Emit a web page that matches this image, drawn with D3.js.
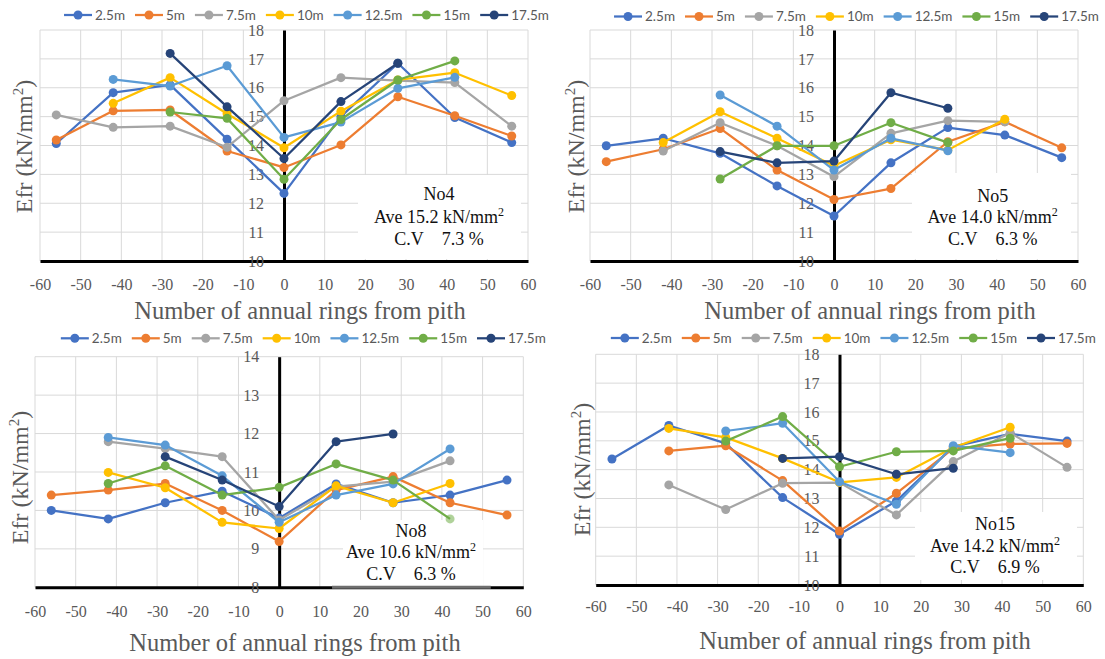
<!DOCTYPE html>
<html>
<head>
<meta charset="utf-8">
<script src="https://cdn.jsdelivr.net/npm/d3@7"></script>
<style>
  html, body { margin: 0; padding: 0; background: #fff; }
  svg { display: block; }
</style>
</head>
<body>
<svg id="chart" width="1105" height="659"></svg>
<script>
// Ring positions from the pith (x) and sampling heights (series)
const rings = [-56, -42, -28, -14, 0, 14, 28, 42, 56];
const heights = ["2.5m", "5m", "7.5m", "10m", "12.5m", "15m", "17.5m"];
const xTickValues = [-60, -50, -40, -30, -20, -10, 0, 10, 20, 30, 40, 50, 60];

// Efr (kN/mm2) per height, one value per ring position (null = not measured)
const no4_2_5  = [14.07, 15.83, 16.10, 14.22, 12.34, 15.00, 16.85, 14.97, 14.10];
const no4_5    = [14.19, 15.20, 15.23, 13.81, 13.24, 14.02, 15.69, 15.03, 14.33];
const no4_7_5  = [15.06, 14.63, 14.67, 13.94, 15.55, 16.35, 16.25, 16.18, 14.67];
const no4_10   = [null, 15.46, 16.35, 15.10, 13.92, 15.19, 16.27, 16.52, 15.73];
const no4_12_5 = [null, 16.29, 16.06, 16.76, 14.28, 14.81, 15.98, 16.36, null];
const no4_15   = [null, null, 15.16, 14.94, 12.83, 14.90, 16.27, 16.93, null];
const no4_17_5 = [null, null, 17.19, 15.34, 13.55, 15.52, 16.85, null, null];

const no5_2_5  = [13.99, 14.25, 13.73, 12.60, 11.56, 13.40, 14.62, 14.36, 13.58];
const no5_5    = [13.44, 13.87, 14.59, 13.15, 12.13, 12.51, 14.13, 14.82, 13.92];
const no5_7_5  = [null, 13.81, 14.79, 13.99, 12.92, 14.42, 14.86, 14.82, null];
const no5_10   = [null, 14.10, 15.17, 14.25, 13.30, 14.20, 13.84, 14.91, null];
const no5_12_5 = [null, null, 15.75, 14.67, 13.15, 14.25, 13.82, null, null];
const no5_15   = [null, null, 12.84, 13.99, 13.99, 14.79, 14.10, null, null];
const no5_17_5 = [null, null, 13.79, 13.40, 13.46, 15.83, 15.29, null, null];

const no8_2_5  = [10.00, 9.78, 10.20, 10.50, 9.80, 10.69, 10.20, 10.40, 10.79];
const no8_5    = [10.40, 10.53, 10.70, 10.00, 9.19, 10.53, 10.88, 10.20, 9.88];
const no8_7_5  = [null, 11.79, 11.61, 11.40, 9.75, 10.62, 10.75, 11.29, null];
const no8_10   = [null, 10.99, 10.59, 9.69, 9.53, 10.64, 10.20, 10.70, null];
const no8_12_5 = [null, 11.90, 11.70, 10.90, 9.69, 10.40, 10.69, 11.60, null];
const no8_15   = [null, 10.70, 11.16, 10.40, 10.60, 11.21, 10.79, 9.78, null];
const no8_17_5 = [null, null, 11.40, 10.79, 10.10, 11.79, 11.99, null, null];

const no15_2_5  = [14.37, 15.53, 14.91, 13.03, 11.76, 12.91, 14.80, 15.24, 14.99];
const no15_5    = [null, 14.65, 14.83, 13.62, 11.87, 13.18, 14.74, 14.89, 14.91];
const no15_7_5  = [null, 13.47, 12.62, 13.53, 13.55, 12.43, 14.28, 15.28, 14.08];
const no15_10   = [null, 15.43, 15.12, 14.39, 13.56, 13.73, 14.77, 15.47, null];
const no15_12_5 = [null, null, 15.34, 15.61, 13.58, 12.80, 14.83, 14.59, null];
const no15_15   = [null, null, 14.99, 15.84, 14.10, 14.62, 14.65, 15.09, null];
const no15_17_5 = [null, null, null, 14.39, 14.45, 13.84, 14.05, null, null];

// Summary statistics per log
const logNames = ["No4", "No5", "No8", "No15"];
const averages = ["15.2", "14.0", "10.6", "14.2"];
const cvs = ["7.3", "6.3", "6.3", "6.9"];

const colors = ["#4472C4", "#ED7D31", "#A5A5A5", "#FFC000", "#5B9BD5", "#70AD47", "#264478"];
const serif = "'Liberation Serif', 'Times New Roman', serif";
const sans = "Lato, 'Liberation Sans', Arial, sans-serif";
const textGray = "#595959";

// Layout of the four panels
const panels = [
  { values: [no4_2_5, no4_5, no4_7_5, no4_10, no4_12_5, no4_15, no4_17_5], yDomain: [10, 18],
    left: 40, right: 528, top: 30, bottom: 261, tickPad: 18,
    legendCx: 306.5, legendY: 15, yTitle: [24, 146.5], xTitle: [300, 319],
    box: [358, 521, 175, 259], note: [439, 200, 223, 245] },
  { values: [no5_2_5, no5_5, no5_7_5, no5_10, no5_12_5, no5_15, no5_17_5], yDomain: [10, 18],
    left: 590, right: 1078, top: 30, bottom: 261, tickPad: 18,
    legendCx: 856.5, legendY: 16.5, yTitle: [576, 146.5], xTitle: [870, 319],
    box: [912, 1071, 173, 259], note: [992.7, 201.5, 223, 245] },
  { values: [no8_2_5, no8_5, no8_7_5, no8_10, no8_12_5, no8_15, no8_17_5], yDomain: [8, 14],
    left: 35, right: 523.3, top: 356.7, bottom: 587.3, tickPad: 18,
    legendCx: 303.3, legendY: 338.3, yTitle: [20, 477.5], xTitle: [295, 651],
    box: [343, 483, 520, 586], note: [411, 536.7, 558.3, 580],
    axisPatch: [13, 52], faded: { series: 5, index: 7 } },
  { values: [no15_2_5, no15_5, no15_7_5, no15_10, no15_12_5, no15_15, no15_17_5], yDomain: [10, 18],
    left: 595.7, right: 1083.3, top: 354.3, bottom: 585, tickPad: 16,
    legendCx: 853.3, legendY: 338, yTitle: [582, 469.5], xTitle: [865, 649],
    box: [915, 1077, 512, 580], note: [995, 530, 551.7, 573.3] }
];

const svg = d3.select("#chart");
svg.append("rect").attr("width", 1105).attr("height", 659).attr("fill", "#fff");

panels.forEach((p, pi) => {
  const g = svg.append("g");
  const x = d3.scaleLinear().domain([-60, 60]).range([p.left, p.right]);
  const y = d3.scaleLinear().domain(p.yDomain).range([p.bottom, p.top]);
  const yTicks = d3.range(p.yDomain[0], p.yDomain[1] + 1);

  // gridlines
  g.append("g").selectAll("line").data(xTickValues).join("line")
    .attr("x1", d => x(d)).attr("x2", d => x(d))
    .attr("y1", p.top).attr("y2", p.bottom)
    .attr("stroke", "#d9d9d9").attr("stroke-width", 1);
  g.append("g").selectAll("line").data(yTicks).join("line")
    .attr("x1", p.left).attr("x2", p.right)
    .attr("y1", d => y(d)).attr("y2", d => y(d))
    .attr("stroke", "#d9d9d9").attr("stroke-width", 1);

  // text box background
  g.append("rect")
    .attr("x", p.box[0]).attr("y", p.box[2])
    .attr("width", p.box[1] - p.box[0]).attr("height", p.box[3] - p.box[2])
    .attr("fill", "#fff");

  // axes
  const xa = g.append("g").attr("transform", `translate(0,${p.bottom})`)
    .call(d3.axisBottom(x).tickValues(xTickValues).tickSize(0)
      .tickPadding(p.tickPad).tickFormat(d => String(d)));
  xa.attr("font-family", serif).attr("font-size", 16);
  xa.select(".domain").attr("stroke", "#000").attr("stroke-width", 3);
  xa.selectAll("text").attr("fill", textGray);

  const ya = g.append("g").attr("transform", `translate(${x(0)},0)`)
    .call(d3.axisLeft(y).tickValues(yTicks).tickSize(0)
      .tickPadding(20).tickFormat(d => String(d)));
  ya.attr("font-family", serif).attr("font-size", 16);
  ya.select(".domain").attr("stroke", "#000").attr("stroke-width", 3);
  ya.selectAll("text").attr("fill", textGray);

  if (p.axisPatch) {
    g.append("line")
      .attr("x1", x(p.axisPatch[0])).attr("x2", x(p.axisPatch[1]))
      .attr("y1", p.bottom).attr("y2", p.bottom)
      .attr("stroke", "#6e6e6e").attr("stroke-width", 3);
  }

  // series
  const line = d3.line()
    .defined(d => d.v !== null)
    .x(d => x(d.r)).y(d => y(d.v));
  p.values.forEach((vals, si) => {
    const pts = vals.map((v, i) => ({ r: rings[i], v, i }));
    g.append("path").datum(pts)
      .attr("d", line)
      .attr("fill", "none")
      .attr("stroke", colors[si])
      .attr("stroke-width", 2.25)
      .attr("stroke-linejoin", "round");
    g.append("g").selectAll("circle").data(pts.filter(d => d.v !== null)).join("circle")
      .attr("cx", d => x(d.r)).attr("cy", d => y(d.v)).attr("r", 4.5)
      .attr("fill", colors[si])
      .attr("opacity", d => (p.faded && p.faded.series === si && p.faded.index === d.i) ? 0.55 : 1);
  });

  // note text
  const nt = g.append("g").attr("font-family", serif).attr("font-size", 18)
    .attr("fill", "#111").attr("text-anchor", "middle");
  nt.append("text").attr("x", p.note[0]).attr("y", p.note[1]).text(logNames[pi]);
  const ave = nt.append("text").attr("x", p.note[0]).attr("y", p.note[2]);
  ave.append("tspan").text(`Ave ${averages[pi]} kN/mm`);
  ave.append("tspan").attr("font-size", 12).attr("dy", -7).text("2");
  nt.append("text").attr("x", p.note[0]).attr("y", p.note[3])
    .text(`C.V\u00A0\u00A0\u00A0\u00A0${cvs[pi]} %`);

  // axis titles
  g.append("text")
    .attr("x", p.xTitle[0]).attr("y", p.xTitle[1])
    .attr("text-anchor", "middle")
    .attr("font-family", serif).attr("font-size", 24.5)
    .attr("fill", textGray)
    .text("Number of annual rings from pith");

  const yt = g.append("text")
    .attr("transform", `translate(${p.yTitle[0] + 8},${p.yTitle[1]}) rotate(-90)`)
    .attr("text-anchor", "middle")
    .attr("font-family", serif).attr("font-size", 24)
    .attr("fill", textGray);
  yt.append("tspan").text("Efr (kN/mm");
  yt.append("tspan").attr("font-size", 15).attr("dy", -9).text("2");
  yt.append("tspan").attr("dy", 9).text(")");

  // legend
  const lg = svg.append("g").attr("font-family", sans).attr("font-size", 13.5).attr("fill", textGray);
  const lineLen = 28, textGap = 3, itemGap = 10;
  let cursor = 0;
  heights.forEach((h, i) => {
    const it = lg.append("g").attr("transform", `translate(${cursor},0)`);
    it.append("line").attr("x1", 0).attr("x2", lineLen).attr("y1", 0).attr("y2", 0)
      .attr("stroke", colors[i]).attr("stroke-width", 2.25);
    it.append("circle").attr("cx", lineLen / 2).attr("cy", 0).attr("r", 4.5).attr("fill", colors[i]);
    const t = it.append("text").attr("x", lineLen + textGap).attr("y", 0).attr("dy", "0.35em").text(h);
    cursor += lineLen + textGap + t.node().getComputedTextLength() + itemGap;
  });
  const total = cursor - itemGap;
  lg.attr("transform", `translate(${p.legendCx - total / 2},${p.legendY})`);
});
</script>
</body>
</html>
